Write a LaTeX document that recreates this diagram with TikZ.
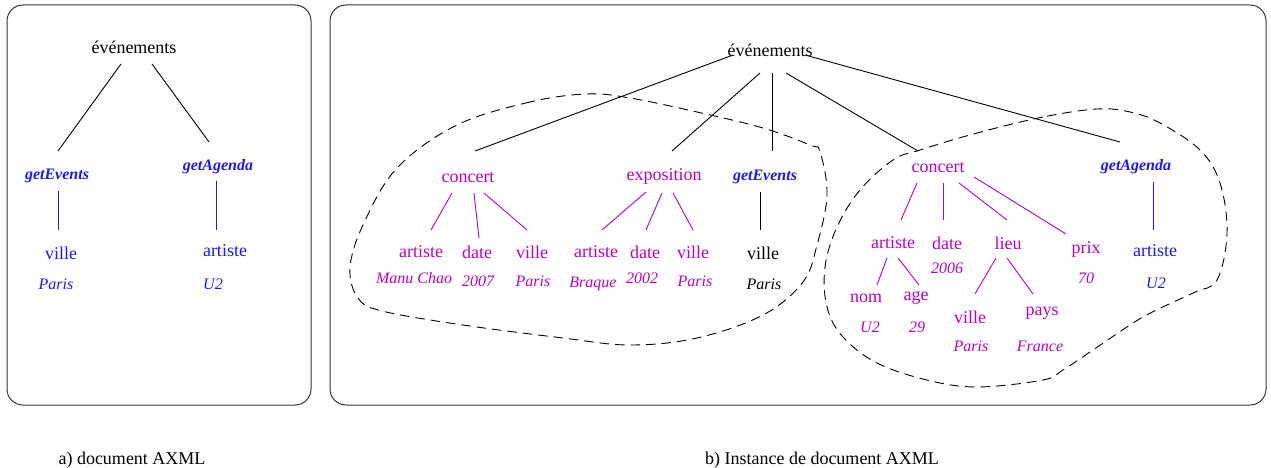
\documentclass[tikz,border=0pt]{standalone}
\usepackage{fontspec}
\setmainfont{Liberation Serif}
\begin{document}
\begin{tikzpicture}[x=1pt,y=-1pt,
  lbl/.style={inner sep=0pt,font=\fontsize{18}{20}\selectfont},
  val/.style={inner sep=0pt,font=\fontsize{16}{18}\selectfont\itshape},
  svc/.style={inner sep=0pt,font=\fontsize{16}{18}\selectfont\bfseries\itshape,text=svcblue},
  mg/.style={text=mag},
  bl/.style={text=svcblue},
  edge/.style={line width=0.9pt,black},
  medge/.style={line width=0.9pt,mag},
  bedge/.style={line width=0.9pt,svcblue},
  frame/.style={line width=1pt,black!80,rounded corners=16pt},
  zone/.style={line width=0.9pt,dash pattern=on 9.5pt off 6pt}]
\definecolor{mag}{RGB}{190,0,190}
\definecolor{svcblue}{RGB}{25,25,255}
\useasboundingbox (0,0) rectangle (1271,468);

% frames
\draw[frame] (7,5) rectangle (311,405);
\draw[frame] (330,5) rectangle (1266,405);

% ---------- a) document AXML ----------
\node[lbl] (l0) at (134,47) {événements};
\node[svc] (l1) at (57,176) {getEvents};
\node[svc] (l2) at (218,167) {getAgenda};
\node[lbl,bl] (l3) at (61,253) {ville};
\node[val,bl] (l4) at (56,284) {Paris};
\node[lbl,bl] (l5) at (225,251) {artiste};
\node[val,bl] (l6) at (213,284) {U2};

\draw[edge] ([shift={(-13,17)}]l0.center) -- ([shift={(1,-25)}]l1.center);
\draw[edge] ([shift={(18,17)}]l0.center) -- ([shift={(-9,-25)}]l2.center);
\draw[bedge] ([shift={(1,15)}]l1.center) -- ([shift={(-3,-23)}]l3.center);
\draw[bedge] ([shift={(-2,14)}]l2.center) -- ([shift={(-9,-21)}]l5.center);

% ---------- b) instance ----------
\node[lbl] (r0) at (770,50) {événements};

% first concert
\node[lbl,mg] (c1) at (468,178) {concert};
\node[lbl,mg] (a1) at (421,252) {artiste};
\node[lbl,mg] (d1) at (477,252) {date};
\node[lbl,mg] (v1) at (532,252) {ville};
\node[val,mg] (mc) at (414,278) {Manu Chao};
\node[val,mg] (y1) at (478,281) {2007};
\node[val,mg] (p1) at (533,281) {Paris};

% exposition
\node[lbl,mg] (ex) at (664,176) {exposition};
\node[lbl,mg] (a2) at (596,252) {artiste};
\node[lbl,mg] (d2) at (645,252) {date};
\node[lbl,mg] (v2) at (693,252) {ville};
\node[val,mg] (br) at (593,284) {Braque};
\node[val,mg] (y2) at (642,278) {2002};
\node[val,mg] (p2) at (695,281) {Paris};

% getEvents call
\node[svc] (ge) at (765,177) {getEvents};
\node[lbl] (v3) at (763,253) {ville};
\node[val] (p3) at (764,284) {Paris};

% second concert
\node[lbl,mg] (c2) at (938,168) {concert};
\node[lbl,mg] (a3) at (893,243) {artiste};
\node[lbl,mg] (d3) at (947,243) {date};
\node[lbl,mg] (li) at (1008,243) {lieu};
\node[lbl,mg] (px) at (1086,249) {prix};
\node[val,mg] (y3) at (947,268) {2006};
\node[val,mg] (n70) at (1086,278) {70};
\node[lbl,mg] (nm) at (866,298) {nom};
\node[lbl,mg] (ag) at (916,298) {age};
\node[val,mg] (u2b) at (870,327) {U2};
\node[val,mg] (n29) at (917,327) {29};
\node[lbl,mg] (v4) at (970,317) {ville};
\node[lbl,mg] (py) at (1042,313) {pays};
\node[val,mg] (p4) at (971,346) {Paris};
\node[val,mg] (fr) at (1040,346) {France};

% getAgenda call
\node[svc] (ga) at (1136,167) {getAgenda};
\node[lbl,bl] (a4) at (1155,251) {artiste};
\node[val,bl] (u2c) at (1156,283) {U2};

% root edges
\draw[edge] ([shift={(-37,5)}]r0.center) -- ([shift={(7,-27)}]c1.center);
\draw[edge] ([shift={(-10,23)}]r0.center) -- ([shift={(8,-25)}]ex.center);
\draw[edge] ([shift={(2,23)}]r0.center) -- ([shift={(7,-26)}]ge.center);
\draw[edge] ([shift={(16,23)}]r0.center) -- ([shift={(-20,-17)}]c2.center);
\draw[edge] ([shift={(35,5)}]r0.center) -- ([shift={(-16,-25)}]ga.center);

% first concert edges
\draw[medge] ([shift={(-16,15)}]c1.center) -- ([shift={(10,-22)}]a1.center);
\draw[medge] ([shift={(6,15)}]c1.center) -- ([shift={(2,-14)}]d1.center);
\draw[medge] ([shift={(16,15)}]c1.center) -- ([shift={(-5,-22)}]v1.center);

% exposition edges
\draw[medge] ([shift={(-18,16)}]ex.center) -- ([shift={(6,-22)}]a2.center);
\draw[medge] ([shift={(-2,17)}]ex.center) -- ([shift={(1,-22)}]d2.center);
\draw[medge] ([shift={(9,17)}]ex.center) -- ([shift={(0,-22)}]v2.center);

% getEvents edge
\draw[edge] ([shift={(-5,15)}]ge.center) -- ([shift={(-3,-23)}]v3.center);

% second concert edges
\draw[medge] ([shift={(-21,15)}]c2.center) -- ([shift={(8,-23)}]a3.center);
\draw[medge] ([shift={(5,15)}]c2.center) -- ([shift={(-4,-23)}]d3.center);
\draw[medge] ([shift={(21,15)}]c2.center) -- ([shift={(-1,-23)}]li.center);
\draw[medge] ([shift={(36,9)}]c2.center) -- ([shift={(-20,-15)}]px.center);
\draw[medge] ([shift={(-6,15)}]a3.center) -- ([shift={(11,-13)}]nm.center);
\draw[medge] ([shift={(5,15)}]a3.center) -- ([shift={(3,-13)}]ag.center);
\draw[medge] ([shift={(-12,15)}]li.center) -- ([shift={(5,-23)}]v4.center);
\draw[medge] ([shift={(-1,15)}]li.center) -- ([shift={(-9,-19)}]py.center);

% getAgenda edge
\draw[bedge] ([shift={(17,15)}]ga.center) -- ([shift={(-2,-21)}]a4.center);

% dashed zones
\draw[zone] plot[smooth cycle,tension=0.6] coordinates {
  (587,94) (530,102) (457,125) (397,168) (363,225) (350,268) (358,298)
  (382,311) (463,325) (563,338) (630,345) (697,338) (763,315) (803,282)
  (817,245) (827,195) (820,152) (810,145) (763,128) (697,112) (630,98)};
\draw[zone] plot[smooth cycle,tension=0.6] coordinates {
  (1097,109) (1043,117) (977,133) (920,150) (893,160) (860,190) (837,227)
  (825,267) (827,307) (843,337) (877,363) (927,380) (977,387) (1043,380)
  (1063,370) (1093,350) (1143,317) (1193,293) (1217,280) (1227,233)
  (1220,183) (1200,150) (1160,123) (1130,112)};

% captions
\node[lbl] (capa) at (132,460) {a) document AXML};
\node[lbl] (capb) at (822,460) {b) Instance de document AXML};
\end{tikzpicture}
\end{document}
